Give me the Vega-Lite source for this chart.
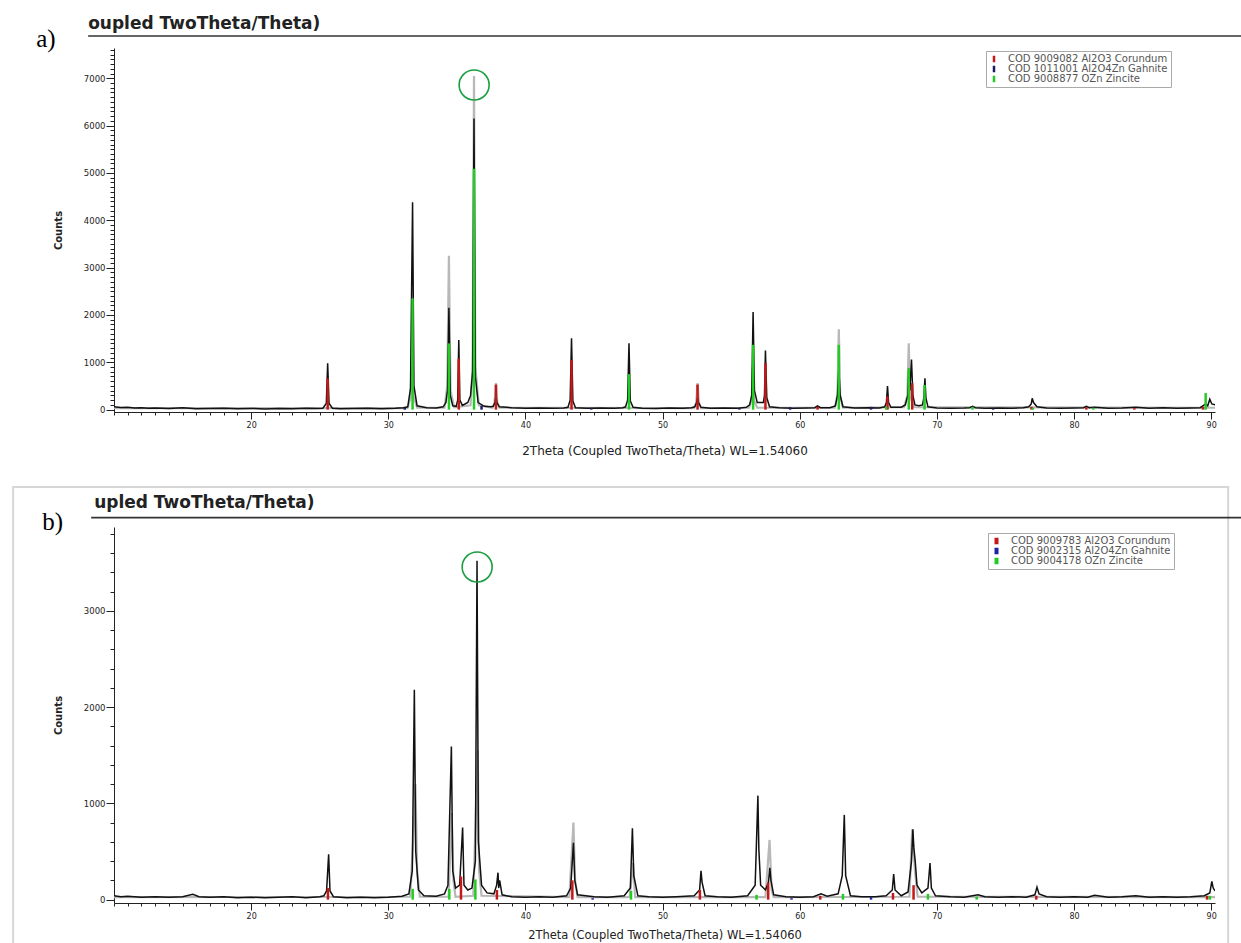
{
  "$schema": "https://vega.github.io/schema/vega-lite/v6.json",
  "background": "white",
  "padding": {"left": 12, "top": 15, "right": 0, "bottom": 0},
  "spacing": 30,
  "config": {
    "view": {"stroke": null},
    "axis": {"grid": false, "labelFont": "DejaVu Sans", "titleFont": "DejaVu Sans", "domainColor": "#222", "tickColor": "#222", "labelColor": "#222", "titleColor": "#222", "titleFontWeight": "normal"},
    "legend": {"labelFont": "DejaVu Sans"}
  },
  "datasets": {
    "aLine": [
      {"t":10.0,"c":60},{"t":10.5,"c":45},{"t":11.0,"c":50},{"t":11.5,"c":35},{"t":12.0,"c":40},{"t":12.5,"c":30},{"t":13.0,"c":35},{"t":14.0,"c":25},{"t":15.0,"c":40},{"t":16.0,"c":20},{"t":17.0,"c":25},{"t":18.0,"c":30},{"t":19.0,"c":20},{"t":20.0,"c":25},{"t":21.0,"c":15},{"t":22.0,"c":25},{"t":23.0,"c":20},{"t":24.0,"c":30},{"t":24.8,"c":25},
      {"t":25.23,"c":30},{"t":25.48,"c":130},{"t":25.58,"c":980},{"t":25.68,"c":130},{"t":25.93,"c":30},
      {"t":26.5,"c":20},{"t":27.5,"c":25},{"t":28.5,"c":30},{"t":29.5,"c":20},{"t":30.5,"c":30},{"t":31.1,"c":40},
      {"t":31.42,"c":60},{"t":31.62,"c":450},{"t":31.77,"c":4380},{"t":31.87,"c":500},{"t":32.1,"c":80},
      {"t":32.8,"c":40},{"t":33.5,"c":35},{"t":34.0,"c":60},
      {"t":34.2,"c":150},{"t":34.32,"c":400},{"t":34.42,"c":2150},{"t":34.52,"c":300},{"t":34.7,"c":80},
      {"t":34.95,"c":70},{"t":35.06,"c":200},{"t":35.14,"c":1470},{"t":35.22,"c":200},{"t":35.4,"c":90},
      {"t":35.8,"c":150},
      {"t":36.0,"c":300},{"t":36.15,"c":800},{"t":36.25,"c":6150},{"t":36.35,"c":700},{"t":36.55,"c":150},
      {"t":37.0,"c":70},{"t":37.5,"c":60},
      {"t":37.65,"c":70},{"t":37.78,"c":150},{"t":37.85,"c":300},{"t":37.92,"c":150},{"t":38.1,"c":60},
      {"t":39.0,"c":40},{"t":40.0,"c":30},{"t":41.0,"c":35},{"t":42.0,"c":30},{"t":42.8,"c":35},
      {"t":43.1,"c":50},{"t":43.26,"c":200},{"t":43.36,"c":1510},{"t":43.46,"c":180},{"t":43.65,"c":40},
      {"t":44.5,"c":30},{"t":45.5,"c":35},{"t":46.5,"c":30},{"t":47.1,"c":40},
      {"t":47.3,"c":60},{"t":47.45,"c":200},{"t":47.55,"c":1400},{"t":47.65,"c":180},{"t":47.85,"c":50},
      {"t":48.5,"c":30},{"t":49.5,"c":25},{"t":50.5,"c":35},{"t":51.5,"c":30},{"t":52.1,"c":40},
      {"t":52.35,"c":60},{"t":52.48,"c":150},{"t":52.55,"c":250},{"t":52.62,"c":150},{"t":52.8,"c":50},
      {"t":53.5,"c":30},{"t":54.5,"c":35},{"t":55.5,"c":30},{"t":56.1,"c":50},
      {"t":56.35,"c":100},{"t":56.5,"c":300},{"t":56.6,"c":2060},{"t":56.7,"c":400},{"t":56.9,"c":150},
      {"t":57.35,"c":150},{"t":57.43,"c":300},{"t":57.5,"c":1250},{"t":57.6,"c":250},{"t":57.8,"c":60},
      {"t":58.5,"c":40},{"t":59.5,"c":30},{"t":60.5,"c":35},
      {"t":61.1,"c":40},{"t":61.3,"c":80},{"t":61.5,"c":40},
      {"t":62.2,"c":40},
      {"t":62.6,"c":80},{"t":62.75,"c":300},{"t":62.85,"c":870},{"t":62.95,"c":300},{"t":63.15,"c":60},
      {"t":64.0,"c":35},{"t":65.0,"c":40},{"t":65.8,"c":35},
      {"t":66.2,"c":60},{"t":66.32,"c":150},{"t":66.4,"c":500},{"t":66.48,"c":150},{"t":66.65,"c":50},
      {"t":67.4,"c":50},
      {"t":67.7,"c":100},{"t":67.88,"c":300},{"t":67.95,"c":870},{"t":68.03,"c":400},{"t":68.15,"c":1060},{"t":68.25,"c":300},{"t":68.4,"c":100},
      {"t":68.7,"c":80},
      {"t":68.95,"c":100},{"t":69.05,"c":250},{"t":69.13,"c":660},{"t":69.2,"c":250},{"t":69.35,"c":60},
      {"t":70.0,"c":35},{"t":71.0,"c":30},{"t":72.0,"c":35},
      {"t":72.4,"c":40},{"t":72.6,"c":70},{"t":72.8,"c":40},
      {"t":73.5,"c":30},{"t":74.5,"c":35},{"t":75.5,"c":30},{"t":76.3,"c":40},
      {"t":76.7,"c":60},{"t":76.88,"c":120},{"t":76.95,"c":240},{"t":77.05,"c":150},{"t":77.3,"c":60},
      {"t":78.0,"c":35},{"t":79.0,"c":30},{"t":80.0,"c":35},
      {"t":80.7,"c":40},{"t":80.9,"c":70},{"t":81.1,"c":40},
      {"t":81.5,"c":50},{"t":82.5,"c":30},{"t":83.5,"c":35},{"t":84.5,"c":50},{"t":85.5,"c":30},{"t":86.5,"c":40},{"t":87.5,"c":30},{"t":88.5,"c":35},{"t":89.2,"c":40},
      {"t":89.6,"c":120},{"t":89.75,"c":80},{"t":89.9,"c":220},{"t":90.05,"c":120},{"t":90.28,"c":100}
    ],
    "aGrey": [
      {"t":10.0,"c":30},{"t":31.4,"c":30},{"t":31.62,"c":250},{"t":31.72,"c":900},{"t":31.82,"c":300},{"t":32.1,"c":40},
      {"t":34.1,"c":40},{"t":34.3,"c":500},{"t":34.42,"c":3250},{"t":34.54,"c":400},{"t":34.8,"c":50},
      {"t":36.0,"c":90},{"t":36.15,"c":900},{"t":36.25,"c":7050},{"t":36.35,"c":900},{"t":36.6,"c":90},
      {"t":37.6,"c":40},{"t":37.75,"c":150},{"t":37.85,"c":560},{"t":37.95,"c":150},{"t":38.1,"c":40},
      {"t":52.3,"c":30},{"t":52.45,"c":150},{"t":52.55,"c":560},{"t":52.65,"c":150},{"t":52.8,"c":30},
      {"t":56.3,"c":40},{"t":56.5,"c":200},{"t":56.57,"c":900},{"t":56.66,"c":200},{"t":56.9,"c":40},
      {"t":62.55,"c":40},{"t":62.75,"c":300},{"t":62.85,"c":1700},{"t":62.95,"c":300},{"t":63.15,"c":40},
      {"t":67.6,"c":50},{"t":67.85,"c":300},{"t":67.95,"c":1400},{"t":68.05,"c":300},{"t":68.3,"c":50},
      {"t":90.28,"c":40}
    ],
    "aStick": [
      {"t":25.58,"h":660,"phase":"Corundum"},{"t":35.14,"h":1080,"phase":"Corundum"},{"t":37.85,"h":530,"phase":"Corundum"},{"t":43.36,"h":1050,"phase":"Corundum"},{"t":52.55,"h":530,"phase":"Corundum"},{"t":57.5,"h":980,"phase":"Corundum"},{"t":61.3,"h":60,"phase":"Corundum"},{"t":66.4,"h":280,"phase":"Corundum"},{"t":68.2,"h":560,"phase":"Corundum"},{"t":76.9,"h":60,"phase":"Corundum"},{"t":80.9,"h":50,"phase":"Corundum"},{"t":84.4,"h":30,"phase":"Corundum"},{"t":89.4,"h":60,"phase":"Corundum"},
      {"t":31.2,"h":40,"phase":"Gahnite"},{"t":36.8,"h":80,"phase":"Gahnite"},{"t":44.8,"h":30,"phase":"Gahnite"},{"t":55.6,"h":30,"phase":"Gahnite"},{"t":59.3,"h":50,"phase":"Gahnite"},{"t":65.2,"h":60,"phase":"Gahnite"},{"t":74.1,"h":20,"phase":"Gahnite"},
      {"t":31.77,"h":2350,"phase":"Zincite"},{"t":34.42,"h":1400,"phase":"Zincite"},{"t":36.25,"h":5090,"phase":"Zincite"},{"t":47.55,"h":750,"phase":"Zincite"},{"t":56.6,"h":1370,"phase":"Zincite"},{"t":62.85,"h":1370,"phase":"Zincite"},{"t":66.3,"h":60,"phase":"Zincite"},{"t":67.95,"h":870,"phase":"Zincite"},{"t":69.1,"h":520,"phase":"Zincite"},{"t":72.6,"h":60,"phase":"Zincite"},{"t":77.0,"h":40,"phase":"Zincite"},{"t":81.4,"h":40,"phase":"Zincite"},{"t":89.6,"h":350,"phase":"Zincite"}
    ],
    "bLine": [
      {"t":10.0,"c":40},{"t":10.5,"c":30},{"t":11.0,"c":35},{"t":12.0,"c":25},{"t":13.0,"c":30},{"t":14.0,"c":25},{"t":15.0,"c":30},{"t":15.75,"c":55},{"t":16.2,"c":30},{"t":17.0,"c":25},{"t":18.0,"c":30},{"t":19.0,"c":20},{"t":20.0,"c":25},{"t":21.0,"c":20},{"t":22.0,"c":25},{"t":23.0,"c":30},{"t":24.0,"c":20},{"t":25.0,"c":30},
      {"t":25.3,"c":40},{"t":25.5,"c":90},{"t":25.65,"c":470},{"t":25.75,"c":90},{"t":26.0,"c":30},
      {"t":27.0,"c":20},{"t":28.0,"c":25},{"t":29.0,"c":20},{"t":30.0,"c":25},{"t":31.0,"c":35},
      {"t":31.5,"c":60},{"t":31.75,"c":300},{"t":31.9,"c":2180},{"t":32.0,"c":500},{"t":32.2,"c":100},
      {"t":32.6,"c":40},{"t":33.5,"c":35},{"t":34.1,"c":60},
      {"t":34.35,"c":150},{"t":34.6,"c":1590},{"t":34.7,"c":300},{"t":34.9,"c":120},
      {"t":35.2,"c":150},{"t":35.42,"c":750},{"t":35.52,"c":150},{"t":35.8,"c":100},
      {"t":36.1,"c":120},{"t":36.35,"c":400},{"t":36.47,"c":3520},{"t":36.57,"c":600},{"t":36.8,"c":150},
      {"t":37.2,"c":70},{"t":37.7,"c":60},
      {"t":37.9,"c":150},{"t":38.0,"c":280},{"t":38.05,"c":120},{"t":38.12,"c":200},{"t":38.3,"c":50},
      {"t":39.0,"c":30},{"t":40.0,"c":25},{"t":41.0,"c":30},{"t":42.0,"c":25},
      {"t":43.0,"c":40},{"t":43.3,"c":120},{"t":43.5,"c":590},{"t":43.6,"c":200},{"t":43.8,"c":50},
      {"t":45.0,"c":30},{"t":46.0,"c":25},{"t":47.2,"c":40},
      {"t":47.65,"c":120},{"t":47.8,"c":740},{"t":47.9,"c":250},{"t":48.2,"c":40},
      {"t":49.0,"c":30},{"t":50.0,"c":25},{"t":51.0,"c":30},
      {"t":52.3,"c":40},{"t":52.7,"c":100},{"t":52.8,"c":300},{"t":52.88,"c":180},{"t":53.1,"c":40},
      {"t":54.0,"c":30},{"t":55.0,"c":25},{"t":56.2,"c":40},
      {"t":56.75,"c":150},{"t":56.95,"c":1080},{"t":57.02,"c":520},{"t":57.15,"c":150},{"t":57.5,"c":100},
      {"t":57.72,"c":180},{"t":57.82,"c":330},{"t":57.9,"c":200},{"t":58.1,"c":50},
      {"t":59.0,"c":30},{"t":60.0,"c":25},{"t":61.0,"c":30},{"t":61.55,"c":60},{"t":62.0,"c":35},
      {"t":62.8,"c":60},{"t":63.1,"c":250},{"t":63.25,"c":880},{"t":63.35,"c":250},{"t":63.7,"c":40},
      {"t":64.5,"c":30},{"t":65.5,"c":30},{"t":66.3,"c":40},
      {"t":66.75,"c":100},{"t":66.85,"c":265},{"t":66.95,"c":100},{"t":67.4,"c":40},
      {"t":67.9,"c":80},{"t":68.15,"c":400},{"t":68.25,"c":730},{"t":68.32,"c":540},{"t":68.42,"c":400},{"t":68.55,"c":150},{"t":68.9,"c":70},
      {"t":69.35,"c":120},{"t":69.5,"c":380},{"t":69.6,"c":120},{"t":69.9,"c":40},
      {"t":71.0,"c":30},{"t":72.0,"c":25},{"t":73.0,"c":50},{"t":73.5,"c":30},{"t":74.5,"c":25},{"t":75.5,"c":30},{"t":76.5,"c":25},
      {"t":77.15,"c":50},{"t":77.3,"c":130},{"t":77.45,"c":60},
      {"t":78.0,"c":30},{"t":79.0,"c":25},{"t":80.0,"c":30},{"t":81.0,"c":25},{"t":81.5,"c":45},{"t":82.5,"c":25},{"t":83.5,"c":30},{"t":84.5,"c":40},{"t":85.5,"c":25},{"t":86.5,"c":30},{"t":87.5,"c":25},{"t":88.5,"c":30},{"t":89.5,"c":40},
      {"t":89.9,"c":70},{"t":90.05,"c":190},{"t":90.15,"c":120},{"t":90.28,"c":90}
    ],
    "bGrey": [
      {"t":10.0,"c":25},{"t":31.6,"c":30},{"t":31.88,"c":800},{"t":31.98,"c":1200},{"t":32.1,"c":300},{"t":32.3,"c":30},
      {"t":34.4,"c":30},{"t":34.62,"c":900},{"t":34.75,"c":200},{"t":34.9,"c":30},
      {"t":36.2,"c":40},{"t":36.52,"c":1550},{"t":36.62,"c":300},{"t":36.8,"c":40},
      {"t":43.2,"c":25},{"t":43.5,"c":800},{"t":43.62,"c":200},{"t":43.8,"c":25},
      {"t":47.6,"c":25},{"t":47.85,"c":380},{"t":48.0,"c":25},
      {"t":57.5,"c":25},{"t":57.8,"c":620},{"t":57.95,"c":100},{"t":58.1,"c":25},
      {"t":68.0,"c":30},{"t":68.2,"c":730},{"t":68.4,"c":300},{"t":68.6,"c":30},
      {"t":90.28,"c":25}
    ],
    "bStick": [
      {"t":25.6,"h":120,"phase":"Corundum"},{"t":35.3,"h":240,"phase":"Corundum"},{"t":37.92,"h":100,"phase":"Corundum"},{"t":43.42,"h":200,"phase":"Corundum"},{"t":52.72,"h":100,"phase":"Corundum"},{"t":57.7,"h":175,"phase":"Corundum"},{"t":61.5,"h":40,"phase":"Corundum"},{"t":66.8,"h":70,"phase":"Corundum"},{"t":68.3,"h":150,"phase":"Corundum"},{"t":77.25,"h":40,"phase":"Corundum"},{"t":89.7,"h":40,"phase":"Corundum"},
      {"t":44.9,"h":15,"phase":"Gahnite"},{"t":59.4,"h":15,"phase":"Gahnite"},{"t":65.2,"h":25,"phase":"Gahnite"},
      {"t":31.78,"h":110,"phase":"Zincite"},{"t":34.45,"h":110,"phase":"Zincite"},{"t":36.35,"h":210,"phase":"Zincite"},{"t":47.7,"h":90,"phase":"Zincite"},{"t":56.85,"h":50,"phase":"Zincite"},{"t":63.15,"h":60,"phase":"Zincite"},{"t":69.35,"h":60,"phase":"Zincite"},{"t":72.9,"h":30,"phase":"Zincite"},{"t":89.9,"h":40,"phase":"Zincite"}
    ]
  },
  "resolve": {"scale": {"color": "independent"}, "legend": {"color": "independent"}},
  "vconcat": [
    {
      "width": 1101,
      "height": 364,
      "resolve": {"axis": {"x": "independent", "y": "independent"}},
      "layer": [
        {
          "data": {"name": "aGrey"},
          "mark": {"type": "line", "color": "#b8b8b8", "strokeWidth": 2.2, "clip": true},
          "encoding": {
            "x": {"field": "t", "type": "quantitative", "scale": {"domain": [10, 90.28], "nice": false, "zero": false}, "axis": null},
            "y": {"field": "c", "type": "quantitative", "scale": {"domain": [-50, 7640], "nice": false, "zero": false}, "axis": null}
          }
        },
        {
          "data": {"name": "aLine"},
          "mark": {"type": "line", "color": "#111111", "strokeWidth": 1.5, "clip": true},
          "encoding": {
            "x": {"field": "t", "type": "quantitative", "scale": {"domain": [10, 90.28], "nice": false, "zero": false},
              "axis": {"orient": "bottom", "values": [20, 30, 40, 50, 60, 70, 80, 90], "format": "d", "title": "2Theta (Coupled TwoTheta/Theta) WL=1.54060", "tickSize": 7, "labelFontSize": 8, "labelPadding": 2, "titleFontSize": 12, "titlePadding": 16}},
            "y": {"field": "c", "type": "quantitative", "scale": {"domain": [-50, 7640], "nice": false, "zero": false},
              "axis": {"orient": "left", "values": [0, 1000, 2000, 3000, 4000, 5000, 6000, 7000], "format": "d", "title": "Counts", "tickSize": 8, "labelFontSize": 8.5, "labelPadding": 1, "titleFontSize": 10, "titleFontWeight": "bold", "titlePadding": 20}}
          }
        },
        {
          "data": {"name": "aStick"},
          "mark": {"type": "rule", "strokeWidth": 2.5},
          "encoding": {
            "x": {"field": "t", "type": "quantitative", "scale": {"domain": [10, 90.28], "nice": false, "zero": false}, "axis": null},
            "y": {"field": "h", "type": "quantitative", "scale": {"domain": [-50, 7640], "nice": false, "zero": false}, "axis": null},
            "y2": {"datum": 0},
            "color": {"field": "phase", "type": "nominal",
              "scale": {"domain": ["Corundum", "Gahnite", "Zincite"], "range": ["#c41818", "#1c1c66", "#22cc22"]},
              "legend": {"orient": "none", "legendX": 872, "legendY": 3, "title": null, "symbolType": "M0,-1L0,1", "symbolStrokeWidth": 2.5, "symbolSize": 40, "labelFontSize": 10, "labelColor": "#555555", "strokeColor": "#aaaaaa", "fillColor": "white", "padding": 3, "rowPadding": 0, "clipHeight": 10, "labelLimit": 400, "labelOffset": 9,
                "labelExpr": "datum.label == 'Corundum' ? 'COD 9009082 Al2O3 Corundum' : datum.label == 'Gahnite' ? 'COD 1011001 Al2O4Zn Gahnite' : 'COD 9008877 OZn Zincite'"}}
          }
        },
        {
          "data": {"values": [{}]},
          "mark": {"type": "point", "shape": "circle", "size": 900, "filled": false, "stroke": "#1a9e3f", "strokeWidth": 1.6, "opacity": 1},
          "encoding": {
            "x": {"datum": 36.26, "type": "quantitative", "scale": {"domain": [10, 90.28], "nice": false, "zero": false},
              "axis": {"orient": "bottom", "values": [10,11,12,13,14,15,16,17,18,19,20,21,22,23,24,25,26,27,28,29,30,31,32,33,34,35,36,37,38,39,40,41,42,43,44,45,46,47,48,49,50,51,52,53,54,55,56,57,58,59,60,61,62,63,64,65,66,67,68,69,70,71,72,73,74,75,76,77,78,79,80,81,82,83,84,85,86,87,88,89,90], "labels": false, "domain": false, "tickSize": 3, "title": null}},
            "y": {"datum": 6858, "type": "quantitative", "scale": {"domain": [-50, 7640], "nice": false, "zero": false},
              "axis": {"orient": "left", "values": [0,100,200,300,400,500,600,700,800,900,1000,1100,1200,1300,1400,1500,1600,1700,1800,1900,2000,2100,2200,2300,2400,2500,2600,2700,2800,2900,3000,3100,3200,3300,3400,3500,3600,3700,3800,3900,4000,4100,4200,4300,4400,4500,4600,4700,4800,4900,5000,5100,5200,5300,5400,5500,5600,5700,5800,5900,6000,6100,6200,6300,6400,6500,6600,6700,6800,6900,7000,7100,7200,7300,7400,7500,7600], "labels": false, "domain": false, "tickSize": 4, "title": null}}
          }
        },
        {
          "data": {"values": [{}]},
          "mark": {"type": "text", "text": "oupled TwoTheta/Theta)", "align": "left", "baseline": "alphabetic", "font": "DejaVu Sans", "fontSize": 17, "fontWeight": "bold", "color": "#222222"},
          "encoding": {
            "x": {"datum": 8.114, "type": "quantitative", "scale": {"domain": [10, 90.28], "nice": false, "zero": false}, "axis": null},
            "y": {"datum": 8041, "type": "quantitative", "scale": {"domain": [-50, 7640], "nice": false, "zero": false}, "axis": null}
          }
        },
        {
          "data": {"values": [{}]},
          "mark": {"type": "rule", "color": "#333333", "strokeWidth": 1.6},
          "encoding": {
            "x": {"datum": 8.114, "type": "quantitative", "scale": {"domain": [10, 90.28], "nice": false, "zero": false}, "axis": null},
            "x2": {"datum": 92.26},
            "y": {"datum": 7893, "type": "quantitative", "scale": {"domain": [-50, 7640], "nice": false, "zero": false}, "axis": null}
          }
        },
        {
          "data": {"values": [{}]},
          "mark": {"type": "text", "text": "a)", "align": "left", "baseline": "alphabetic", "font": "Liberation Serif", "fontSize": 25, "color": "#000000"},
          "encoding": {
            "x": {"datum": 4.323, "type": "quantitative", "scale": {"domain": [10, 90.28], "nice": false, "zero": false}, "axis": null},
            "y": {"datum": 7661, "type": "quantitative", "scale": {"domain": [-50, 7640], "nice": false, "zero": false}, "axis": null}
          }
        }
      ]
    },
    {
      "width": 1101,
      "height": 376,
      "resolve": {"axis": {"x": "independent", "y": "independent"}},
      "layer": [
        {
          "data": {"values": [{}]},
          "mark": {"type": "rect", "fillOpacity": 0, "stroke": "#d6d6d6", "strokeWidth": 2},
          "encoding": {
            "x": {"datum": 2.645, "type": "quantitative", "scale": {"domain": [10, 90.28], "nice": false, "zero": false}, "axis": null},
            "x2": {"datum": 91.24},
            "y": {"datum": 4285, "type": "quantitative", "scale": {"domain": [-35, 3870], "nice": false, "zero": false}, "axis": null},
            "y2": {"datum": -523}
          }
        },
        {
          "data": {"name": "bGrey"},
          "mark": {"type": "line", "color": "#b8b8b8", "strokeWidth": 2.2, "clip": true},
          "encoding": {
            "x": {"field": "t", "type": "quantitative", "scale": {"domain": [10, 90.28], "nice": false, "zero": false}, "axis": null},
            "y": {"field": "c", "type": "quantitative", "scale": {"domain": [-35, 3870], "nice": false, "zero": false}, "axis": null}
          }
        },
        {
          "data": {"name": "bLine"},
          "mark": {"type": "line", "color": "#111111", "strokeWidth": 1.5, "clip": true},
          "encoding": {
            "x": {"field": "t", "type": "quantitative", "scale": {"domain": [10, 90.28], "nice": false, "zero": false},
              "axis": {"orient": "bottom", "values": [20, 30, 40, 50, 60, 70, 80, 90], "format": "d", "title": "2Theta (Coupled TwoTheta/Theta) WL=1.54060", "tickSize": 7, "labelFontSize": 8, "labelPadding": 2, "titleFontSize": 11.5, "titlePadding": 9}},
            "y": {"field": "c", "type": "quantitative", "scale": {"domain": [-35, 3870], "nice": false, "zero": false},
              "axis": {"orient": "left", "values": [0, 1000, 2000, 3000], "format": "d", "title": "Counts", "tickSize": 8, "labelFontSize": 8.5, "labelPadding": 1, "titleFontSize": 10, "titleFontWeight": "bold", "titlePadding": 20}}
          }
        },
        {
          "data": {"name": "bStick"},
          "mark": {"type": "rule", "strokeWidth": 2.5},
          "encoding": {
            "x": {"field": "t", "type": "quantitative", "scale": {"domain": [10, 90.28], "nice": false, "zero": false}, "axis": null},
            "y": {"field": "h", "type": "quantitative", "scale": {"domain": [-35, 3870], "nice": false, "zero": false}, "axis": null},
            "y2": {"datum": 0},
            "color": {"field": "phase", "type": "nominal",
              "scale": {"domain": ["Corundum", "Gahnite", "Zincite"], "range": ["#c41818", "#1f22a8", "#22cc22"]},
              "legend": {"orient": "none", "legendX": 874, "legendY": 6, "title": null, "symbolType": "M0,-1L0,1", "symbolStrokeWidth": 4, "symbolSize": 40, "labelFontSize": 10, "labelColor": "#555555", "strokeColor": "#aaaaaa", "fillColor": "white", "padding": 3, "rowPadding": 0, "clipHeight": 10, "labelLimit": 400, "labelOffset": 9,
                "labelExpr": "datum.label == 'Corundum' ? 'COD 9009783 Al2O3 Corundum' : datum.label == 'Gahnite' ? 'COD 9002315 Al2O4Zn Gahnite' : 'COD 9004178 OZn Zincite'"}}
          }
        },
        {
          "data": {"values": [{}]},
          "mark": {"type": "point", "shape": "circle", "size": 900, "filled": false, "stroke": "#1a9e3f", "strokeWidth": 1.6, "opacity": 1},
          "encoding": {
            "x": {"datum": 36.48, "type": "quantitative", "scale": {"domain": [10, 90.28], "nice": false, "zero": false},
              "axis": {"orient": "bottom", "values": [10,11,12,13,14,15,16,17,18,19,20,21,22,23,24,25,26,27,28,29,30,31,32,33,34,35,36,37,38,39,40,41,42,43,44,45,46,47,48,49,50,51,52,53,54,55,56,57,58,59,60,61,62,63,64,65,66,67,68,69,70,71,72,73,74,75,76,77,78,79,80,81,82,83,84,85,86,87,88,89,90], "labels": false, "domain": false, "tickSize": 3, "title": null}},
            "y": {"datum": 3455, "type": "quantitative", "scale": {"domain": [-35, 3870], "nice": false, "zero": false},
              "axis": {"orient": "left", "values": [0,200,400,600,800,1000,1200,1400,1600,1800,2000,2200,2400,2600,2800,3000,3200,3400,3600,3800], "labels": false, "domain": false, "tickSize": 4, "title": null}}
          }
        },
        {
          "data": {"values": [{}]},
          "mark": {"type": "text", "text": "upled TwoTheta/Theta)", "align": "left", "baseline": "alphabetic", "font": "DejaVu Sans", "fontSize": 17, "fontWeight": "bold", "color": "#222222"},
          "encoding": {
            "x": {"datum": 8.552, "type": "quantitative", "scale": {"domain": [10, 90.28], "nice": false, "zero": false}, "axis": null},
            "y": {"datum": 4064, "type": "quantitative", "scale": {"domain": [-35, 3870], "nice": false, "zero": false}, "axis": null}
          }
        },
        {
          "data": {"values": [{}]},
          "mark": {"type": "rule", "color": "#333333", "strokeWidth": 1.6},
          "encoding": {
            "x": {"datum": 8.335, "type": "quantitative", "scale": {"domain": [10, 90.28], "nice": false, "zero": false}, "axis": null},
            "x2": {"datum": 92.26},
            "y": {"datum": 3967, "type": "quantitative", "scale": {"domain": [-35, 3870], "nice": false, "zero": false}, "axis": null}
          }
        },
        {
          "data": {"values": [{}]},
          "mark": {"type": "text", "text": "b)", "align": "left", "baseline": "alphabetic", "font": "Liberation Serif", "fontSize": 25, "color": "#000000"},
          "encoding": {
            "x": {"datum": 4.76, "type": "quantitative", "scale": {"domain": [10, 90.28], "nice": false, "zero": false}, "axis": null},
            "y": {"datum": 3839, "type": "quantitative", "scale": {"domain": [-35, 3870], "nice": false, "zero": false}, "axis": null}
          }
        }
      ]
    }
  ]
}
